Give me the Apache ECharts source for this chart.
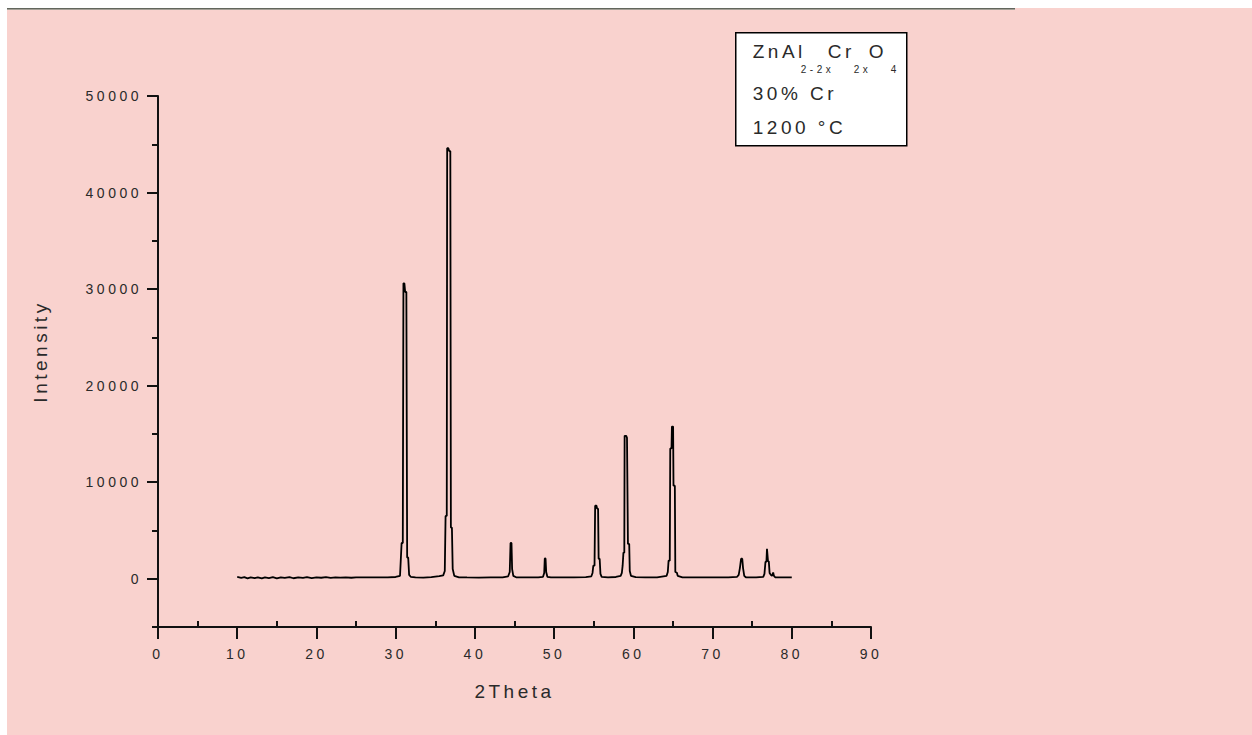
<!DOCTYPE html>
<html>
<head>
<meta charset="utf-8">
<script src="https://cdn.jsdelivr.net/npm/echarts@6/dist/echarts.min.js"></script>
<style>
  html, body { margin: 0; padding: 0; background: #fff; }
  #page { position: relative; width: 1252px; height: 735px; overflow: hidden; }
  #paper { position: absolute; left: 7px; top: 8px; right: 0; bottom: 0; background: #f9d2ce; }
  #rule { position: absolute; left: 7px; top: 8px; width: 1008px; height: 1px; background: #62665d;
          box-shadow: 0 1px 0 #a39f96; }
  #app { position: absolute; left: 0; top: 0; width: 1252px; height: 735px; letter-spacing: 3.5px; }
</style>
</head>
<body>
<div id="page">
  <div id="paper"></div>
  <div id="rule"></div>
  <div id="app"></div>
</div>
<script>
// XRD pattern, ZnAl(2-2x)Cr(2x)O4, 30% Cr, 1200 C
const twoTheta = [
  10.0, 10.5, 10.9, 11.3, 11.7, 12.2, 12.6, 13.1, 13.5, 14.0, 14.5, 15.0, 15.5, 16.0, 16.6, 17.1,
  17.7, 18.3, 18.8, 19.4, 20.0, 20.6, 21.2, 21.8, 22.4, 23.0, 23.7, 24.4, 25.0, 26.0, 27.0, 28.0,
  29.0, 30.0, 30.55, 30.75, 30.9, 30.98, 31.1, 31.2, 31.35, 31.45, 31.58, 31.7, 31.9, 32.5, 33.5,
  34.5, 35.5, 36.0, 36.2, 36.3, 36.45, 36.5, 36.65, 36.75, 36.9, 36.97, 37.1, 37.2, 37.4, 38.0,
  39.0, 40.5, 42.0, 43.5, 44.2, 44.4, 44.5, 44.62, 44.7, 44.85, 45.2, 46.5, 48.0, 48.6, 48.75,
  48.82, 48.92, 49.0, 49.15, 49.6, 51.0, 52.5, 54.0, 54.7, 54.85, 54.95, 55.1, 55.18, 55.35,
  55.42, 55.55, 55.62, 55.75, 55.85, 56.0, 56.8, 57.8, 58.4, 58.55, 58.65, 58.75, 58.86, 58.9,
  59.1, 59.2, 59.28, 59.32, 59.48, 59.55, 59.7, 60.3, 61.5, 63.0, 64.2, 64.35, 64.45, 64.6,
  64.66, 64.82, 64.87, 65.02, 65.07, 65.24, 65.3, 65.5, 65.6, 66.2, 68.0, 70.0, 72.0, 73.1,
  73.3, 73.45, 73.6, 73.75, 73.85, 74.0, 74.2, 75.5, 76.4, 76.55, 76.68, 76.8, 76.87, 76.95,
  77.0, 77.1, 77.2, 77.35, 77.5, 77.65, 77.75, 77.9, 79.0, 80.0
];
const intensity = [
  180, 90, 160, 40, 130, 60, 150, 30, 140, 70, 160, 40, 150, 80, 170, 50,
  150, 90, 160, 60, 150, 100, 160, 90, 140, 110, 150, 100, 140, 130, 140, 130,
  150, 180, 300, 3700, 3700, 30600, 30600, 29700, 29700, 2200, 2200, 400, 200, 150, 120,
  160, 260, 350, 800, 6500, 6500, 44600, 44600, 44300, 44300, 5300, 5300, 1000, 300, 150,
  130, 120, 130, 140, 250, 700, 3700, 3700, 1000, 300, 150, 130, 140, 200, 600,
  2100, 2100, 700, 200, 140, 130, 130, 160, 250, 600, 1350, 1350, 7570, 7570,
  7260, 7260, 2070, 2070, 500, 200, 140, 180, 300, 600, 1350, 2700, 2700, 14800,
  14800, 14600, 14600, 3600, 3600, 800, 300, 160, 130, 140, 300, 700, 1870, 1870,
  13500, 13500, 15760, 15760, 9640, 9640, 700, 620, 300, 140, 130, 130, 140, 200,
  400, 1100, 2070, 2070, 1100, 300, 150, 140, 200, 500, 1760, 1760, 3100, 3100,
  1800, 1800, 600, 400, 300, 650, 300, 150, 140, 150
];

const xMajorTicks = [0, 10, 20, 30, 40, 50, 60, 70, 80, 90];
const xMinorTicks = [5, 15, 25, 35, 45, 55, 65, 75, 85];
const yMajorTicks = [0, 10000, 20000, 30000, 40000, 50000];
const yMinorTicks = [-5000, 5000, 15000, 25000, 35000, 45000];

const legendLines = ['30% Cr', '1200 °C'];

const points = twoTheta.map((t, i) => [t, intensity[i]]);

const chart = echarts.init(document.getElementById('app'), null, { renderer: 'svg' });

const font = 'Arial, "Liberation Sans", sans-serif';
const ink = '#111';
const labelColor = '#2a2a2a';

const option = {
    backgroundColor: 'transparent',
    animation: false,
    grid: { left: 158, right: 381, top: 96, bottom: 108, containLabel: false },
    xAxis: [{
        type: 'value', min: 0, max: 90,
        name: '2Theta', nameLocation: 'middle', nameGap: 55,
        nameTextStyle: { fontFamily: font, fontSize: 19, color: labelColor },
        axisLine: { show: true, onZero: false, lineStyle: { color: ink, width: 2 } },
        axisTick: { show: true, customValues: xMajorTicks, length: 12, lineStyle: { color: ink, width: 2 } },
        axisLabel: { customValues: xMajorTicks, margin: 20, fontFamily: font, fontSize: 14, color: labelColor },
        splitLine: { show: false }
    }, {
        type: 'value', min: 0, max: 90, position: 'bottom',
        axisLine: { show: false, onZero: false },
        axisTick: { show: true, inside: true, customValues: xMinorTicks, length: 6, lineStyle: { color: ink, width: 2 } },
        axisLabel: { show: false },
        splitLine: { show: false }
    }],
    yAxis: [{
        type: 'value', min: -5000, max: 50000,
        name: 'Intensity', nameLocation: 'middle', nameGap: 108,
        nameTextStyle: { fontFamily: font, fontSize: 19, color: labelColor, padding: [0, 0, 0, 20] },
        axisLine: { show: true, onZero: false, lineStyle: { color: ink, width: 2 } },
        axisTick: { show: true, customValues: yMajorTicks, length: 11, lineStyle: { color: ink, width: 2 } },
        axisLabel: {
            customValues: yMajorTicks, margin: 16, fontFamily: font, fontSize: 14, color: labelColor,
            formatter: v => String(v)
        },
        splitLine: { show: false }
    }, {
        type: 'value', min: -5000, max: 50000, position: 'left',
        axisLine: { show: false, onZero: false },
        axisTick: { show: true, customValues: yMinorTicks, length: 6, lineStyle: { color: ink, width: 2 } },
        axisLabel: { show: false },
        splitLine: { show: false }
    }],
    graphic: [{
        type: 'group',
        left: 735, top: 32,
        children: [
            { type: 'rect', shape: { x: 0, y: 0, width: 171, height: 113 },
              style: { fill: '#fff', stroke: '#000', lineWidth: 1.5 } },
            // first line with subscripts
            { type: 'text', x: 17, y: 19, style: { text: 'ZnAl', font: '19px ' + font, fill: labelColor, verticalAlign: 'middle' } },
            { type: 'text', x: 65, y: 37, style: { text: '2-2x', font: '10px ' + font, fill: labelColor, verticalAlign: 'middle' } },
            { type: 'text', x: 92, y: 19, style: { text: 'Cr', font: '19px ' + font, fill: labelColor, verticalAlign: 'middle' } },
            { type: 'text', x: 118, y: 37, style: { text: '2x', font: '10px ' + font, fill: labelColor, verticalAlign: 'middle' } },
            { type: 'text', x: 133, y: 19, style: { text: 'O', font: '19px ' + font, fill: labelColor, verticalAlign: 'middle' } },
            { type: 'text', x: 155, y: 37, style: { text: '4', font: '10px ' + font, fill: labelColor, verticalAlign: 'middle' } },
            { type: 'text', x: 17, y: 61, style: { text: legendLines[0], font: '19px ' + font, fill: labelColor, verticalAlign: 'middle' } },
            { type: 'text', x: 17, y: 95, style: { text: legendLines[1], font: '19px ' + font, fill: labelColor, verticalAlign: 'middle' } }
        ]
    }],
    series: [{
        type: 'line',
        xAxisIndex: 0,
        yAxisIndex: 0,
        data: points,
        showSymbol: false,
        symbol: 'none',
        lineStyle: { color: '#000', width: 1.8 }
    }]
};

chart.setOption(option);
</script>
</body>
</html>
